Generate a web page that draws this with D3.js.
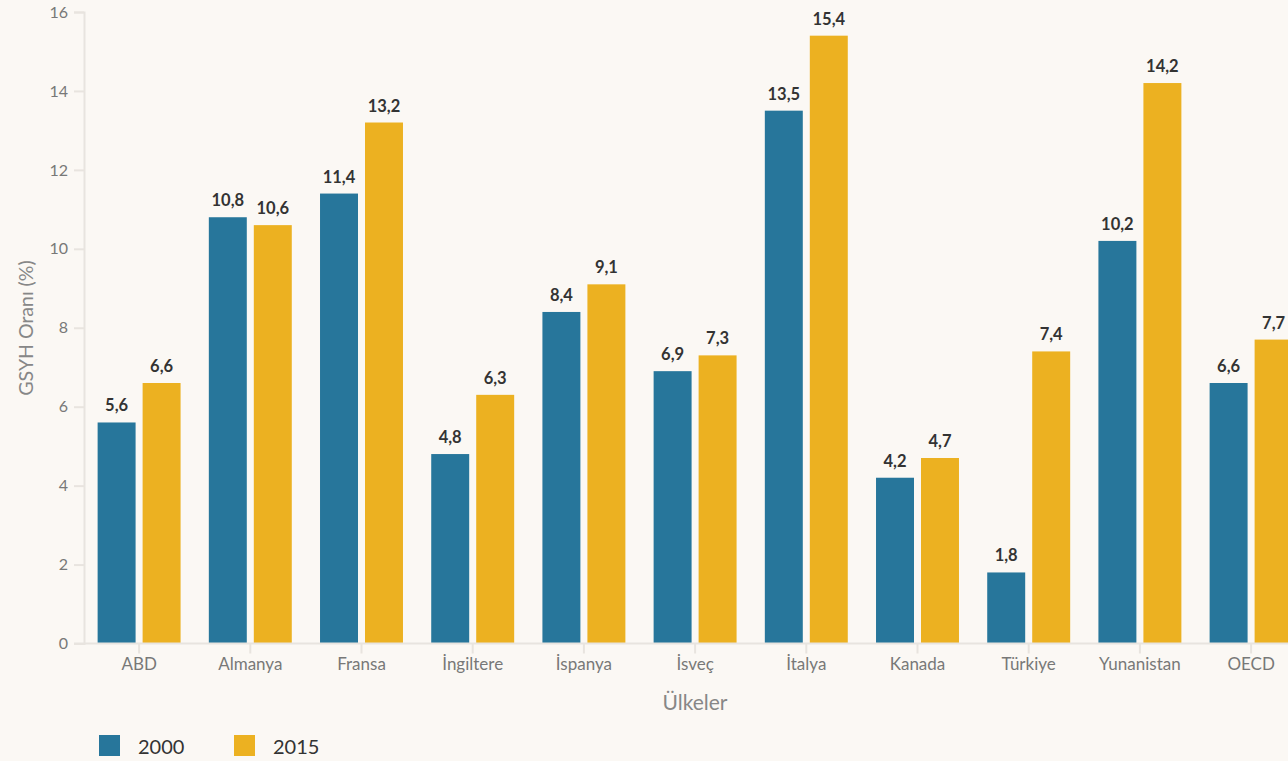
<!DOCTYPE html>
<html><head><meta charset="utf-8">
<script src="https://cdn.jsdelivr.net/npm/d3@7"></script>
<style>
html,body{margin:0;padding:0;background:#fbf8f4;overflow:hidden}
svg{display:block;font-family:"Source Sans Pro",Lato,"Noto Sans",sans-serif}
</style></head><body>
<svg id="c" width="1288" height="761"></svg>
<script>
const categories = ["ABD","Almanya","Fransa","İngiltere","İspanya","İsveç","İtalya","Kanada","Türkiye","Yunanistan","OECD"];
const series2000 = [5.6,10.8,11.4,4.8,8.4,6.9,13.5,4.2,1.8,10.2,6.6];
const series2015 = [6.6,10.6,13.2,6.3,9.1,7.3,15.4,4.7,7.4,14.2,7.7];
const seriesNames = ["2000","2015"];
const yTicks = [0,2,4,6,8,10,12,14,16];

const colors = ["#27769b","#ecb121"];
const svg = d3.select("#c");
const x0 = d3.scaleBand().domain(categories).range([83.5, 83.5 + 11*111.2]).paddingInner(0.254).paddingOuter(0.127);
const y = d3.scaleLinear().domain([0,16]).range([643.5, 12]);
const x1 = d3.scaleBand().domain(seriesNames).range([0, x0.bandwidth()]).paddingInner(0.156);

// y axis
const yAxis = svg.append("g").attr("transform","translate(84,0)")
  .call(d3.axisLeft(y).tickValues(yTicks).tickSize(10).tickPadding(6).tickFormat(d3.format("d")));
yAxis.select(".domain").attr("stroke","#e8e4df").attr("stroke-width",2);
yAxis.selectAll(".tick line").attr("stroke","#e8e4df").attr("stroke-width",2);
yAxis.selectAll(".tick text").attr("fill","#787878").attr("font-size",16).attr("font-family","Lato,sans-serif");

// bars
const data = categories.map((c,i)=>({c, vals:[series2000[i],series2015[i]]}));
const g = svg.append("g");
const groups = g.selectAll("g.grp").data(data).join("g").attr("class","grp")
  .attr("transform",d=>`translate(${x0(d.c)},0)`);
groups.selectAll("rect").data(d=>d.vals.map((v,k)=>({k,v}))).join("rect")
  .attr("x",d=>x1(seriesNames[d.k])).attr("width",x1.bandwidth())
  .attr("y",d=>y(d.v)).attr("height",d=>y(0)-y(d.v))
  .attr("fill",d=>colors[d.k]);
groups.selectAll("text").data(d=>d.vals.map((v,k)=>({k,v}))).join("text")
  .attr("x",d=>x1(seriesNames[d.k])+x1.bandwidth()/2).attr("y",d=>y(d.v)-11)
  .attr("text-anchor","middle").attr("font-size",16.5).attr("font-weight","bold")
  .attr("fill","#333").attr("font-family","Lato,sans-serif")
  .text(d=>String(d.v.toFixed(1)).replace(".",","));

// x axis
const xAxis = svg.append("g").attr("transform","translate(0,643.5)")
  .call(d3.axisBottom(x0).tickSize(10).tickPadding(4).tickSizeOuter(0));
xAxis.select(".domain").attr("stroke","#e8e4df").attr("stroke-width",2).attr("d","M74,0H1288");
xAxis.selectAll(".tick line").attr("stroke","#e8e4df").attr("stroke-width",2);
xAxis.selectAll(".tick text").attr("fill","#787878").attr("font-size",17).attr("font-family","Lato,sans-serif");

// axis titles
svg.append("text").attr("x",695).attr("y",710).attr("text-anchor","middle")
  .attr("font-size",21).attr("fill","#878787").attr("font-family","Lato,sans-serif").text("Ülkeler");
svg.append("text").attr("transform","translate(33,328) rotate(-90)").attr("text-anchor","middle")
  .attr("font-size",19.5).attr("fill","#878787").attr("font-family","Lato,sans-serif").text("GSYH Oranı (%)");

// legend
const leg = svg.append("g").selectAll("g").data(seriesNames).join("g")
  .attr("transform",(d,i)=>`translate(${99+i*135},735)`);
leg.append("rect").attr("width",21).attr("height",21).attr("fill",(d,i)=>colors[i]);
leg.append("text").attr("x",39).attr("y",19).attr("font-size",20).attr("fill","#333")
  .attr("font-family","Lato,sans-serif").text(d=>d);
</script></body></html>
